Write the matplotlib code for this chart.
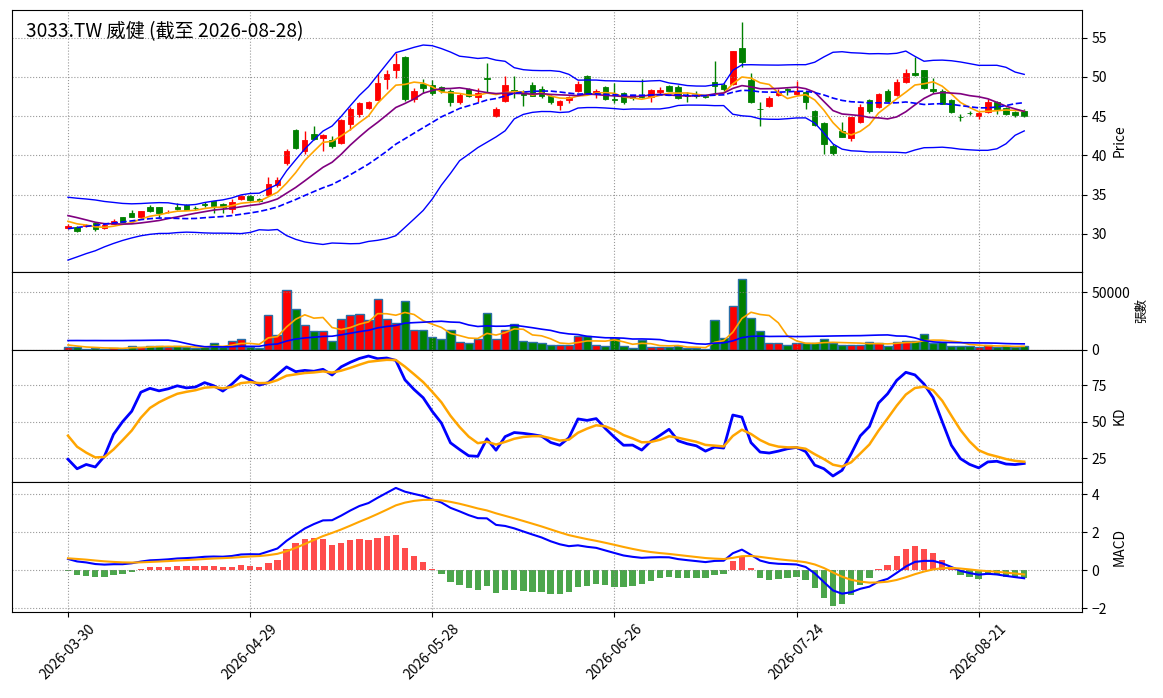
import numpy as np
import pandas as pd
import matplotlib
matplotlib.use("Agg")
import matplotlib.pyplot as plt

plt.rcParams['font.family'] = ['Noto Sans CJK TC', 'DejaVu Sans']

title = "3033.TW 威健 (截至 2026-08-28)"

# trading days (TW holidays removed)
holidays = ["2026-04-03", "2026-04-06", "2026-05-01", "2026-06-19"]
dates = pd.bdate_range("2026-03-30", "2026-08-28")
dates = dates[~dates.isin(pd.to_datetime(holidays))]

# bars before the window, only used to warm up the indicators
pre_close = [29.9, 30.1, 29.8, 29.6, 30.0, 30.3, 30.1, 29.7, 29.4, 29.6, 29.8, 29.5, 29.3, 29.0, 29.2,
             27.6, 27.9, 28.2, 28.0, 28.6, 29.0, 29.5, 29.8, 30.4, 31.0,
             33.0, 34.0, 33.6, 32.9, 31.8,
             32.0, 31.9, 31.7, 31.4]
pre_high = [30.2, 30.4, 30.1, 29.9, 30.3, 30.6, 30.4, 30.0, 29.7, 29.9, 30.1, 29.8, 29.6, 29.3, 29.5,
            27.9, 28.2, 28.5, 28.3, 28.9, 29.3, 29.8, 30.1, 30.7, 31.3,
            33.4, 35.0, 34.6, 33.6, 32.8,
            32.4, 32.3, 32.1, 31.8]
pre_low = [29.6, 29.8, 29.5, 29.3, 29.7, 30.0, 29.8, 29.4, 29.1, 29.3, 29.5, 29.2, 29.0, 28.7, 28.9,
           27.3, 27.6, 27.9, 27.7, 28.3, 28.7, 29.2, 29.5, 30.1, 30.7,
           31.6, 33.0, 33.0, 32.2, 31.6,
           31.6, 31.5, 31.3, 31.0]
pre_vol = [1500, 1400, 1600, 1500, 1300, 1700, 1500, 1400, 1600, 1500, 1500, 1400, 1600, 1500, 1500,
           1500, 1800, 1400, 2000, 1600, 1300, 1700, 1900, 1500, 1600, 1700,
           25000, 38000, 35000, 25300,
           7000, 5000, 4000, 3200]

opens = [30.75, 30.9, 31.0, 31.4, 30.7, 31.3, 32.1, 32.7, 32.15, 33.4,
         33.4, 32.75, 33.4, 33.7, 33.35, 33.75, 34.15, 33.8, 33.2, 34.4,
         34.8, 34.5, 34.9, 36.2, 39.0, 43.2, 40.5, 42.75, 42.2, 42.0,
         41.55, 44.0, 45.3, 46.0, 47.06, 49.7, 50.9, 52.5, 47.2, 49.15,
         48.95, 48.65, 48.25, 46.75, 48.45, 47.4, 49.9, 44.97, 46.9, 48.3,
         48.1, 48.9, 48.5, 47.6, 46.45, 47.1, 48.25, 50.1, 47.95, 48.65,
         47.2, 47.95, 47.6, 47.55, 47.4, 48.1, 48.85, 48.75, 47.75, 47.65,
         47.55, 49.3, 49.0, 49.1, 53.65, 49.6, 45.95, 46.25, 47.7, 48.45,
         47.8, 48.1, 45.6, 44.1, 41.25, 43.1, 42.25, 44.2, 47.0, 46.2,
         48.25, 47.7, 49.3, 50.55, 50.85, 48.45, 48.25, 47.0, 44.9, 45.45,
         45.05, 45.5, 46.75, 46.05, 45.5, 45.7]
highs = [31.3, 31.0, 31.3, 31.5, 31.2, 31.85, 32.2, 33.0, 32.95, 33.65,
         33.45, 33.0, 33.9, 33.8, 33.5, 34.05, 34.2, 33.95, 34.4, 34.95,
         34.9, 34.6, 37.2, 37.2, 40.75, 43.4, 43.1, 43.7, 42.7, 42.5,
         44.6, 46.2, 46.8, 46.9, 50.3, 50.9, 53.0, 52.6, 48.6, 49.7,
         49.6, 48.8, 48.4, 47.9, 48.6, 48.6, 51.75, 46.2, 50.1, 50.1,
         48.3, 49.4, 48.8, 47.7, 47.0, 47.6, 49.5, 50.2, 48.5, 48.8,
         49.2, 48.1, 47.7, 49.7, 48.5, 48.7, 49.0, 49.0, 48.1, 48.2,
         47.65, 52.05, 49.2, 53.3, 57.0, 50.5, 46.84, 47.6, 48.5, 48.6,
         49.5, 48.2, 45.8, 44.3, 41.5, 44.2, 44.95, 46.5, 47.2, 47.9,
         48.4, 49.7, 51.0, 52.55, 50.9, 49.9, 48.4, 47.2, 45.3, 45.7,
         45.6, 47.2, 46.9, 46.2, 45.6, 45.9]
lows = [30.6, 30.2, 30.9, 30.4, 30.6, 31.2, 31.5, 32.1, 32.1, 32.85,
        32.0, 32.6, 33.1, 33.0, 33.1, 33.4, 32.6, 32.7, 32.6, 34.3,
        34.2, 34.0, 34.8, 36.0, 38.8, 40.85, 40.2, 41.9, 40.5, 40.9,
        41.45, 43.2, 44.9, 45.9, 47.0, 48.5, 49.9, 46.9, 46.8, 47.9,
        47.7, 48.0, 46.3, 46.5, 47.4, 46.8, 48.1, 44.9, 46.8, 47.3,
        46.3, 47.5, 47.3, 46.6, 45.8, 46.7, 48.1, 47.9, 47.3, 47.1,
        46.7, 46.6, 47.1, 47.3, 46.8, 47.8, 48.2, 47.2, 46.85, 47.3,
        47.35, 48.0, 48.2, 48.9, 51.2, 46.7, 43.7, 46.2, 47.6, 47.7,
        47.7, 45.9, 43.8, 40.2, 40.1, 42.3, 41.8, 44.1, 45.4, 46.0,
        46.8, 47.6, 49.2, 50.1, 48.4, 47.9, 46.5, 45.4, 44.35, 45.1,
        44.6, 45.4, 45.3, 45.2, 44.9, 44.9]
closes = [31.0, 30.4, 31.1, 30.6, 31.1, 31.7, 31.55, 32.2, 32.9, 32.9,
          32.6, 32.85, 33.2, 33.1, 33.3, 33.7, 33.55, 33.4, 34.05, 34.8,
          34.3, 34.2, 36.3, 36.9, 40.6, 41.0, 42.0, 42.1, 42.6, 41.2,
          44.5, 45.9, 46.7, 46.8, 49.25, 50.35, 51.6, 47.2, 48.25, 48.6,
          48.0, 48.25, 46.85, 47.75, 47.5, 47.9, 49.7, 45.9, 48.9, 48.2,
          47.7, 47.6, 47.5, 46.75, 46.95, 47.45, 49.15, 47.95, 48.2, 47.2,
          47.0, 46.8, 47.3, 47.45, 48.35, 48.35, 48.25, 47.25, 47.55, 47.55,
          47.45, 48.8, 48.4, 53.3, 51.95, 46.75, 45.85, 47.3, 48.0, 48.3,
          48.25, 46.85, 43.9, 41.5, 40.35, 42.4, 44.85, 46.2, 45.7, 47.8,
          46.9, 49.4, 50.45, 50.25, 48.6, 48.15, 46.6, 45.5, 44.85, 45.4,
          45.45, 46.85, 45.9, 45.3, 45.15, 45.0]
volumes = [2600, 2300, 900, 2000, 1200, 1700, 1200, 3800, 2600, 3800,
           3200, 2300, 3200, 2600, 2000, 2600, 6100, 2300, 7800, 9600,
           2600, 2000, 30500, 13100, 51500, 35800, 21200, 16000, 16000, 8100,
           27000, 29900, 30800, 25600, 43900, 26500, 23500, 42700, 16900, 16900,
           11600, 9600, 16900, 7300, 6400, 9600, 31700, 9600, 17700, 22700,
           7800, 7300, 5800, 4700, 4700, 4700, 12500, 12500, 4700, 3800,
           10500, 3800, 2000, 8700, 2300, 2300, 2600, 3500, 2000, 1700,
           500, 25600, 10800, 38100, 61300, 27300, 16000, 6400, 6400, 4700,
           5800, 5800, 5800, 9900, 5800, 4700, 4700, 4700, 7300, 6400,
           3200, 7300, 8100, 8100, 13400, 5800, 7000, 3800, 3800, 3800,
           2600, 4700, 2600, 3200, 2300, 3200]

n_pre = len(pre_close)
c_all = pd.Series(pre_close + closes)
h_all = pd.Series(pre_high + highs)
l_all = pd.Series(pre_low + lows)
v_all = pd.Series(pre_vol + volumes)

ma5 = c_all.rolling(5).mean()
ma10 = c_all.rolling(10).mean()
ma20 = c_all.rolling(20).mean()
sd20 = c_all.rolling(20).std()
bb_up = ma20 + 2 * sd20
bb_dn = ma20 - 2 * sd20

vma5 = v_all.rolling(5).mean()
vma20 = v_all.rolling(20).mean()

low9 = l_all.rolling(9, min_periods=1).min()
high9 = h_all.rolling(9, min_periods=1).max()
rsv = (c_all - low9) / (high9 - low9) * 100
k_vals, d_vals = [], []
k, d = 50.0, 50.0
for r in rsv:
    k = k * 2 / 3 + r / 3
    d = d * 2 / 3 + k / 3
    k_vals.append(k)
    d_vals.append(d)
k_line = pd.Series(k_vals)
d_line = pd.Series(d_vals)

ema12 = c_all.ewm(span=12, adjust=False).mean()
ema26 = c_all.ewm(span=26, adjust=False).mean()
dif = ema12 - ema26
dea = dif.ewm(span=9, adjust=False).mean()
osc = 2 * (dif - dea)

def win(s):
    return s.iloc[n_pre:].to_numpy()

x = np.arange(len(closes))
o = np.array(opens)
c = np.array(closes)
up = c >= o
cols = np.where(up, 'red', 'green')

fig = plt.figure(figsize=(11.63, 6.98), dpi=100)
gs = fig.add_gridspec(4, 1, height_ratios=[262, 78, 132, 130], hspace=0,
                      left=0.0103, right=0.930, top=0.9857, bottom=0.1232)
ax1 = fig.add_subplot(gs[0])
ax2 = fig.add_subplot(gs[1], sharex=ax1)
ax3 = fig.add_subplot(gs[2], sharex=ax1)
ax4 = fig.add_subplot(gs[3], sharex=ax1)

# price
ax1.vlines(x, lows, highs, color=cols, linewidth=1)
ax1.bar(x, np.abs(c - o), bottom=np.minimum(o, c), width=0.6, color=cols,
        edgecolor=cols, linewidth=0.6)
ax1.plot(x, win(ma5), color='orange', linewidth=1.2)
ax1.plot(x, win(ma10), color='purple', linewidth=1.2)
ax1.plot(x, win(ma20), color='blue', linestyle='--', linewidth=1.2)
ax1.plot(x, win(bb_up), color='blue', linewidth=1)
ax1.plot(x, win(bb_dn), color='blue', linewidth=1)
ax1.set_ylabel('Price')
ax1.text(0.013, 0.958, title, transform=ax1.transAxes, fontsize=13.8, va='top')

# volume
ax2.bar(x, volumes, width=0.9, color=cols, edgecolor='#2a6fa8', linewidth=1)
ax2.plot(x, win(vma5), color='orange', linewidth=1.2)
ax2.plot(x, win(vma20), color='blue', linewidth=1.2)
ax2.set_ylim(0, max(volumes) * 1.1)
ax2.set_yticks([0, 50000])
ax2.set_ylabel('張數', fontsize=9)

# KD
ax3.plot(x, win(k_line), color='blue', linewidth=2)
ax3.plot(x, win(d_line), color='orange', linewidth=1.8)
ax3.set_yticks([25, 50, 75])
ax3.set_ylabel('KD')

# MACD
osc_w = win(osc)
ax4.bar(x, osc_w, width=0.7, color=np.where(osc_w >= 0, 'red', 'green'), alpha=0.7)
ax4.plot(x, win(dif), color='blue', linewidth=1.5)
ax4.plot(x, win(dea), color='orange', linewidth=1.5)
ax4.set_ylabel('MACD')

for ax in (ax1, ax2, ax3, ax4):
    ax.yaxis.tick_right()
    ax.yaxis.set_label_position('right')
    ax.grid(True, linestyle=':', color='gray', alpha=0.8)
    ax.tick_params(labelsize=10)
for ax in (ax1, ax2, ax3):
    ax.tick_params(labelbottom=False)

tick_pos = list(range(0, len(dates), 20))
ax4.set_xticks(tick_pos)
ax4.set_xticklabels([dates[i].strftime('%Y-%m-%d') for i in tick_pos], rotation=45, ha='center')
ax4.set_xlim(-6.15, 111.3)

fig.savefig('out.png', dpi=100)
